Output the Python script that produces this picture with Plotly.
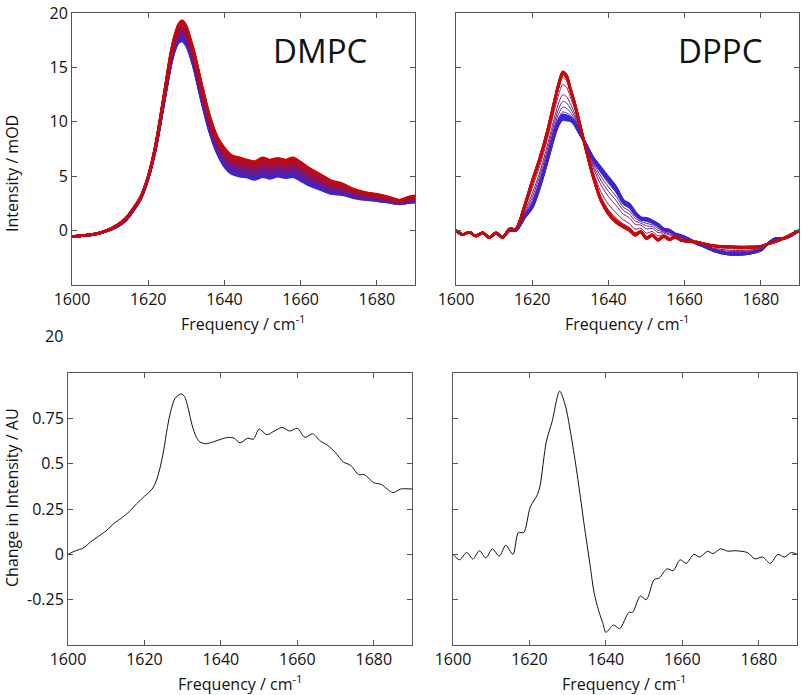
import plotly.graph_objects as go

# ---------------- data ----------------
dmpc_freq = [1600, 1603, 1606, 1609, 1612, 1614, 1616, 1618, 1620, 1622, 1624, 1626, 1627, 1628, 1629,
             1630, 1631, 1632, 1634, 1636, 1638, 1640, 1642, 1644, 1646, 1648, 1650, 1652, 1654, 1656,
             1658, 1660, 1662, 1665, 1668, 1671, 1674, 1677, 1680, 1683, 1686, 1688, 1690]
dmpc_red = [-0.55, -0.45, -0.3, 0.0, 0.55, 1.1, 2.0, 3.1, 5.0, 8.0, 12.2, 16.5, 18.0, 19.0, 19.3,
            18.8, 17.7, 16.5, 13.5, 10.7, 8.7, 7.6, 6.9, 6.7, 6.5, 6.35, 6.7, 6.5, 6.65, 6.5,
            6.7, 6.3, 5.8, 5.2, 4.6, 4.3, 3.8, 3.5, 3.35, 3.1, 2.8, 3.05, 3.2]
dmpc_blue = [-0.55, -0.45, -0.35, -0.05, 0.4, 0.9, 1.8, 2.9, 4.8, 7.6, 11.5, 15.3, 16.6, 17.3, 17.4,
             17.0, 16.1, 14.9, 11.9, 9.2, 7.2, 5.9, 5.2, 5.0, 4.9, 4.7, 4.95, 4.8, 5.0, 4.85,
             4.95, 4.6, 4.2, 3.8, 3.4, 3.3, 3.0, 2.85, 2.75, 2.6, 2.45, 2.55, 2.6]
# position of each DMPC spectrum between the red (0) and blue (1) ends
dmpc_mix = [0.0, 0.04, 0.08, 0.12, 0.17, 0.21, 0.25, 0.29, 0.33, 0.38, 0.42, 0.46,
            0.5, 0.54, 0.58, 0.62, 0.67, 0.71, 0.75, 0.79, 0.83, 0.88, 0.92, 0.96, 1.0]

dppc_freq = [1600, 1601.7, 1603.5, 1605.2, 1607, 1608.7, 1610.5, 1612.2, 1614, 1615.7, 1618, 1620,
             1622, 1624, 1626, 1627, 1628, 1629, 1630, 1631, 1632, 1634, 1636, 1638, 1640, 1642,
             1644, 1645.5, 1647, 1648.5, 1650, 1651.5, 1653, 1654.5, 1656, 1657.5, 1659, 1661,
             1663, 1665, 1668, 1671, 1674, 1677, 1680, 1682, 1684, 1686, 1688, 1690]
dppc_red = [0.0, -0.35, -0.15, -0.5, -0.2, -0.65, -0.2, -0.65, 0.15, 0.15, 2.3, 4.6,
            6.7, 9.2, 12.2, 13.6, 14.6, 14.3, 13.1, 11.9, 10.5, 7.6, 4.9, 2.75, 1.5, 0.75,
            0.3, 0.0, -0.45, -0.15, -0.75, -0.45, -0.9, -0.55, -0.85, -0.6, -0.9, -1.0,
            -1.05, -1.2, -1.4, -1.45, -1.5, -1.5, -1.45, -1.2, -1.0, -0.7, -0.35, 0.0]
dppc_blue = [0.0, -0.35, -0.15, -0.5, -0.2, -0.65, -0.2, -0.6, 0.0, 0.0, 1.2, 2.1,
             4.0, 6.4, 8.9, 9.8, 10.2, 10.15, 10.1, 9.8, 9.2, 8.0, 6.7, 5.8, 4.9, 4.0,
             2.75, 2.45, 1.7, 1.2, 1.15, 0.9, 0.6, 0.15, 0.05, -0.3, -0.45, -0.75,
             -1.15, -1.45, -1.9, -2.15, -2.2, -2.1, -1.8, -1.15, -0.7, -0.75, -0.45, 0.0]
dppc_mix = [0.0, 0.01, 0.02, 0.03, 0.04, 0.05, 0.12, 0.27, 0.48, 0.62, 0.74, 0.84,
            0.9, 0.92, 0.94, 0.96, 0.98, 1.0]
dppc_width = [2.5, 2.5, 2.5, 2.5, 2.5, 2.5, 1, 1, 1, 1, 1, 1, 2.5, 2.5, 2.5, 2.5, 2.5, 2.5]

dmpc_diff_freq = [1600, 1602, 1604, 1606, 1608, 1610, 1612, 1614, 1616, 1618, 1620, 1622, 1623, 1624,
                  1625, 1626, 1627, 1628, 1629.6, 1630.5, 1631.5, 1632.5, 1633.5, 1634.5, 1636, 1638,
                  1640, 1642, 1643.5, 1645, 1647, 1648.5, 1650, 1652, 1654, 1656, 1658, 1660, 1662,
                  1664, 1666, 1668, 1670, 1672, 1674, 1676, 1677.5, 1680, 1682, 1685, 1687, 1690]
dmpc_diff = [0.0, 0.02, 0.035, 0.07, 0.10, 0.13, 0.17, 0.20, 0.235, 0.28, 0.32, 0.36, 0.40, 0.47,
             0.57, 0.70, 0.80, 0.86, 0.885, 0.87, 0.80, 0.71, 0.65, 0.62, 0.61, 0.62,
             0.635, 0.645, 0.64, 0.615, 0.64, 0.635, 0.69, 0.66, 0.68, 0.70, 0.68, 0.695, 0.645,
             0.665, 0.625, 0.60, 0.56, 0.51, 0.49, 0.44, 0.44, 0.395, 0.385, 0.34, 0.36, 0.36]

dppc_diff_freq = [1600, 1601.7, 1603.6, 1605.2, 1606.9, 1608.6, 1610.3, 1612.1, 1613.8, 1615.7,
                  1617.1, 1618.5, 1620.2, 1622.1, 1622.8, 1624.4, 1625.9, 1627.9, 1629.4, 1630.7,
                  1632, 1633.3, 1634.2, 1635.1, 1636, 1636.9, 1638.1, 1639.2, 1640, 1642, 1643.6,
                  1646, 1647, 1649, 1650.6, 1652.6, 1654, 1656, 1657.6, 1659.4, 1661, 1663, 1664.6,
                  1666.6, 1668, 1670, 1672, 1673.6, 1677, 1679, 1681, 1683, 1685, 1686.7, 1688.5, 1690]
dppc_diff = [0.0, -0.03, 0.01, -0.026, 0.02, -0.02, 0.03, -0.01, 0.05, 0.0,
             0.12, 0.12, 0.26, 0.33, 0.38, 0.62, 0.73, 0.90, 0.82, 0.68,
             0.51, 0.32, 0.18, 0.05, -0.08, -0.21, -0.31, -0.38, -0.43, -0.39, -0.41,
             -0.32, -0.32, -0.23, -0.25, -0.14, -0.13, -0.08, -0.09, -0.03, -0.05, 0.0, -0.015,
             0.017, 0.004, 0.03, 0.017, 0.02, 0.01, -0.025, -0.015, -0.05, 0.0, -0.015, 0.01, 0.0]

x_ticks = [1600, 1620, 1640, 1660, 1680]
top_y_ticks = [0, 5, 10, 15, 20]
bot_y_ticks = [-0.25, 0, 0.25, 0.5, 0.75]
bot_y_text = ['-0.25', '0', '0.25', '0.5', '0.75']

RED = (200, 8, 8)
BLUE = (48, 40, 225)


def mix_color(t):
    c = [round(RED[i] * (1 - t) + BLUE[i] * t) for i in range(3)]
    return f"rgb({c[0]},{c[1]},{c[2]})"


fig = go.Figure()

# DMPC family (blue drawn first, red last)
for t in sorted(dmpc_mix, reverse=True):
    y = [r * (1 - t) + b * t for r, b in zip(dmpc_red, dmpc_blue)]
    fig.add_trace(go.Scatter(x=dmpc_freq, y=y, mode='lines', xaxis='x', yaxis='y',
                             line=dict(color=mix_color(t), width=2.5, shape='spline', smoothing=0.8),
                             showlegend=False, hoverinfo='skip'))

# DPPC family
order = sorted(range(len(dppc_mix)), key=lambda i: -dppc_mix[i])
for i in order:
    t = dppc_mix[i]
    y = [r * (1 - t) + b * t for r, b in zip(dppc_red, dppc_blue)]
    fig.add_trace(go.Scatter(x=dppc_freq, y=y, mode='lines', xaxis='x2', yaxis='y2',
                             line=dict(color=mix_color(t), width=dppc_width[i], shape='spline', smoothing=0.8),
                             showlegend=False, hoverinfo='skip'))

fig.add_trace(go.Scatter(x=dmpc_diff_freq, y=dmpc_diff, mode='lines', xaxis='x3', yaxis='y3',
                         line=dict(color='#111', width=1, shape='spline', smoothing=0.8), showlegend=False))
fig.add_trace(go.Scatter(x=dppc_diff_freq, y=dppc_diff, mode='lines', xaxis='x4', yaxis='y4',
                         line=dict(color='#111', width=1, shape='spline', smoothing=0.8), showlegend=False))

W, H = 802, 695


def xd(a, b):
    return [a / W, b / W]


def yd(top, bot):
    return [1 - bot / H, 1 - top / H]


axis_common = dict(showline=True, linecolor='#555', linewidth=1, mirror='ticks', ticks='inside',
                   ticklen=5, tickcolor='#555', showgrid=False, zeroline=False, automargin=False,
                   tickfont=dict(size=16, color='#111'))

fig.update_layout(
    width=W, height=H, margin=dict(l=0, r=0, t=0, b=0, autoexpand=False),
    paper_bgcolor='white', plot_bgcolor='white',
    font=dict(family='Open Sans, sans-serif', color='#111'),
    xaxis=dict(domain=xd(72, 415), anchor='y', range=[1600, 1690], tickvals=x_ticks, **axis_common),
    yaxis=dict(domain=yd(13, 285), anchor='x', range=[-5, 20], tickvals=top_y_ticks, **axis_common),
    xaxis2=dict(domain=xd(456, 799), anchor='y2', range=[1600, 1690], tickvals=x_ticks, **axis_common),
    yaxis2=dict(domain=yd(13, 285), anchor='x2', range=[-5, 20], tickvals=top_y_ticks,
                showticklabels=False, **axis_common),
    xaxis3=dict(domain=xd(68, 412), anchor='y3', range=[1600, 1690], tickvals=x_ticks, **axis_common),
    yaxis3=dict(domain=yd(373, 645), anchor='x3', range=[-0.5, 1.0], tickvals=bot_y_ticks,
                ticktext=bot_y_text, **axis_common),
    xaxis4=dict(domain=xd(453, 797), anchor='y4', range=[1600, 1690], tickvals=x_ticks, **axis_common),
    yaxis4=dict(domain=yd(373, 645), anchor='x4', range=[-0.5, 1.0], tickvals=bot_y_ticks,
                showticklabels=False, **axis_common),
)

ann = []


def txt(x, y, s, size, angle=0, xanchor='center', yanchor='middle'):
    ann.append(dict(x=x / W, y=1 - y / H, xref='paper', yref='paper', text=s, showarrow=False,
                    font=dict(size=size, color='#111'), textangle=angle,
                    xanchor=xanchor, yanchor=yanchor))


txt(320, 50, 'DMPC', 33)
txt(720, 50, 'DPPC', 33)
txt(244, 323, 'Frequency / cm<sup>-1</sup>', 16)
txt(627, 323, 'Frequency / cm<sup>-1</sup>', 16)
txt(240, 683, 'Frequency / cm<sup>-1</sup>', 16)
txt(624, 683, 'Frequency / cm<sup>-1</sup>', 16)
txt(12, 174, 'Intensity / mOD', 16, angle=-90)
txt(12, 498, 'Change in Intensity / AU', 16, angle=-90)
txt(65, 336, '20', 16, xanchor='right')

fig.update_layout(annotations=ann)
fig.write_html('out.html', config={'displayModeBar': False},
               post_script="document.body.style.margin='0';document.body.style.overflow='hidden';")
